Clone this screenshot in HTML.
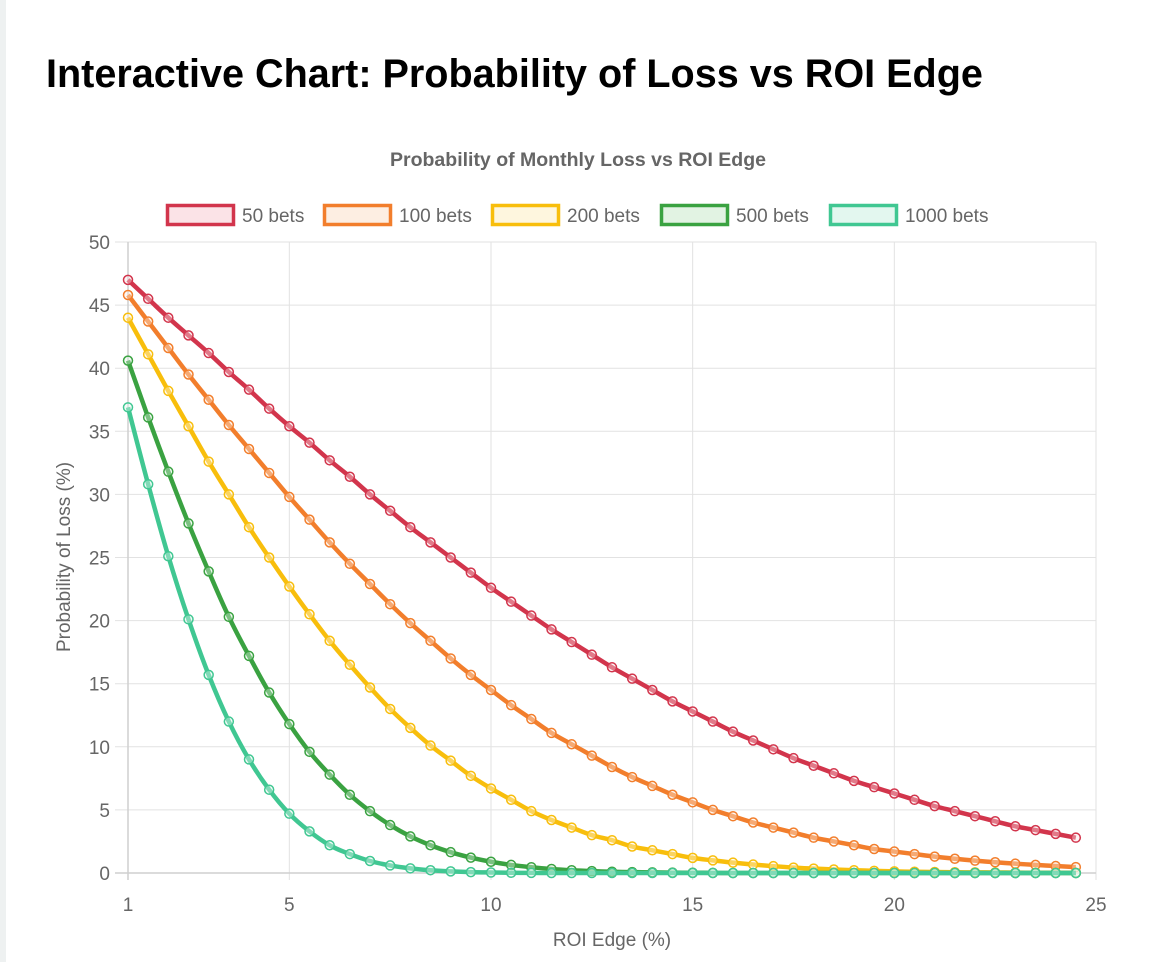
<!DOCTYPE html>
<html><head><meta charset="utf-8"><style>
body{margin:0;background:#fff;width:1152px;height:962px;overflow:hidden;font-family:"Liberation Sans",sans-serif}
#strip{position:absolute;left:0;top:0;width:6px;height:962px;background:#eef1f1}
h1{position:absolute;left:46px;top:52px;margin:0;font-size:39.6px;font-weight:bold;color:#000}
</style></head><body>
<div id="strip"></div>
<h1>Interactive Chart: Probability of Loss vs ROI Edge</h1>
<svg id="chart" width="1152" height="962" style="position:absolute;left:0;top:0"></svg>
<script>
const seriesNames=["50 bets","100 bets","200 bets","500 bets","1000 bets"];
const xTicks=[1,5,10,15,20,25];
const yTicks=[0,5,10,15,20,25,30,35,40,45,50];
const xStart=1, xStep=0.5;
const s50=[47,45.5,44,42.6,41.2,39.7,38.3,36.8,35.4,34.1,32.7,31.4,30,28.7,27.4,26.2,25,23.8,22.6,21.5,20.4,19.3,18.3,17.3,16.3,15.4,14.5,13.6,12.8,12,11.2,10.5,9.8,9.1,8.5,7.9,7.3,6.8,6.3,5.8,5.3,4.9,4.5,4.1,3.7,3.4,3.1,2.8];
const s100=[45.8,43.7,41.6,39.5,37.5,35.5,33.6,31.7,29.8,28,26.2,24.5,22.9,21.3,19.8,18.4,17,15.7,14.5,13.3,12.2,11.1,10.2,9.3,8.4,7.6,6.9,6.2,5.6,5,4.5,4,3.6,3.2,2.8,2.5,2.2,1.9,1.7,1.5,1.3,1.13,0.98,0.85,0.74,0.64,0.55,0.47];
const s200=[44,41.1,38.2,35.4,32.6,30,27.4,25,22.7,20.5,18.4,16.5,14.7,13,11.5,10.1,8.9,7.7,6.7,5.8,4.9,4.2,3.6,3,2.6,2.1,1.8,1.5,1.2,1,0.82,0.67,0.54,0.43,0.35,0.28,0.22,0.17,0.13,0.1,0.08,0.06,0.05,0.04,0.03,0.02,0.02,0.01];
const s500=[40.6,36.1,31.8,27.7,23.9,20.3,17.2,14.3,11.8,9.6,7.8,6.2,4.9,3.8,2.9,2.2,1.65,1.22,0.89,0.64,0.46,0.32,0.22,0.15,0.1,0.07,0.05,0.03,0.02,0.01,0,0,0,0,0,0,0,0,0,0,0,0,0,0,0,0,0,0];
const s1000=[36.9,30.8,25.1,20.1,15.7,12,9,6.6,4.7,3.3,2.2,1.5,0.95,0.6,0.37,0.22,0.13,0.07,0.04,0.02,0.01,0,0,0,0,0,0,0,0,0,0,0,0,0,0,0,0,0,0,0,0,0,0,0,0,0,0,0];
const allSeries=[s50,s100,s200,s500,s1000];
const colors=["#d2354c","#f27e2c","#f8be0c","#3aa241","#40c792"];
const fills=["#fbe3e7","#fdeee2","#fef6de","#e2f3e3","#e3f7ef"];
const L=128,R=1096,T=242,B=873,xMin=1,xMax=25,yMax=50;
const X=v=>L+(v-xMin)/(xMax-xMin)*(R-L);
const Y=v=>B-v/yMax*(B-T);
const svg=document.getElementById('chart');const NS="http://www.w3.org/2000/svg";
function mk(t,a,p){const e=document.createElementNS(NS,t);for(const k in a)e.setAttribute(k,a[k]);(p||svg).appendChild(e);return e;}
yTicks.forEach(v=>{const l=mk('line',{x1:115,x2:R,y1:Y(v),y2:Y(v),stroke:'#e2e2e2','stroke-width':1});

const t=mk('text',{x:110,y:Y(v)+7,'text-anchor':'end','font-size':19,fill:'#666'});t.textContent=v;
});
xTicks.forEach(v=>{const l=mk('line',{x1:X(v),x2:X(v),y1:T,y2:880,stroke:'#e2e2e2','stroke-width':1});

const t=mk('text',{x:X(v),y:911,'text-anchor':'middle','font-size':19,fill:'#666'});t.textContent=v;
});
mk('line',{x1:L,x2:L,y1:T,y2:880,stroke:'#cfcfcf','stroke-width':1.5});
mk('line',{x1:115,x2:R,y1:B,y2:B,stroke:'#cfcfcf','stroke-width':1.5});
let t=mk('text',{x:578,y:166,'text-anchor':'middle','font-size':19.5,'font-weight':'bold',fill:'#666'});t.textContent="Probability of Monthly Loss vs ROI Edge";

t=mk('text',{x:612,y:946,'text-anchor':'middle','font-size':19,fill:'#666'});t.textContent="ROI Edge (%)";

t=mk('text',{x:70,y:557,'text-anchor':'middle','font-size':19,fill:'#666',transform:'rotate(-90 70 557)'});t.textContent="Probability of Loss (%)";

const lx=[166,323,491,660,829];
seriesNames.forEach((n,i)=>{const g=mk('g',{});

mk('rect',{x:lx[i]+1.5,y:205.5,width:66,height:19,fill:fills[i],stroke:colors[i],'stroke-width':3.5},g);
const tt=mk('text',{x:lx[i]+76,y:222,'font-size':19,fill:'#666'},g);tt.textContent=n;});
allSeries.forEach((s,i)=>{const pts=s.map((v,j)=>[X(xStart+j*xStep),Y(v)]);
let d='M'+pts[0][0]+','+pts[0][1];
for(let j=1;j<pts.length;j++){const p0=pts[Math.max(j-2,0)],p1=pts[j-1],p2=pts[j],p3=pts[Math.min(j+1,pts.length-1)];const k=0.2;
d+=` C${p1[0]+(p2[0]-p0[0])*k},${p1[1]+(p2[1]-p0[1])*k} ${p2[0]-(p3[0]-p1[0])*k},${p2[1]-(p3[1]-p1[1])*k} ${p2[0]},${p2[1]}`;}
const path=mk('path',{d:d,fill:'none',stroke:colors[i],'stroke-width':4.5,'stroke-linejoin':'round'});

pts.forEach(p=>{const c=mk('circle',{cx:p[0],cy:p[1],r:4.5,fill:fills[i],'fill-opacity':0.4,stroke:colors[i],'stroke-width':1.5});
});});
</script>
</body></html>
